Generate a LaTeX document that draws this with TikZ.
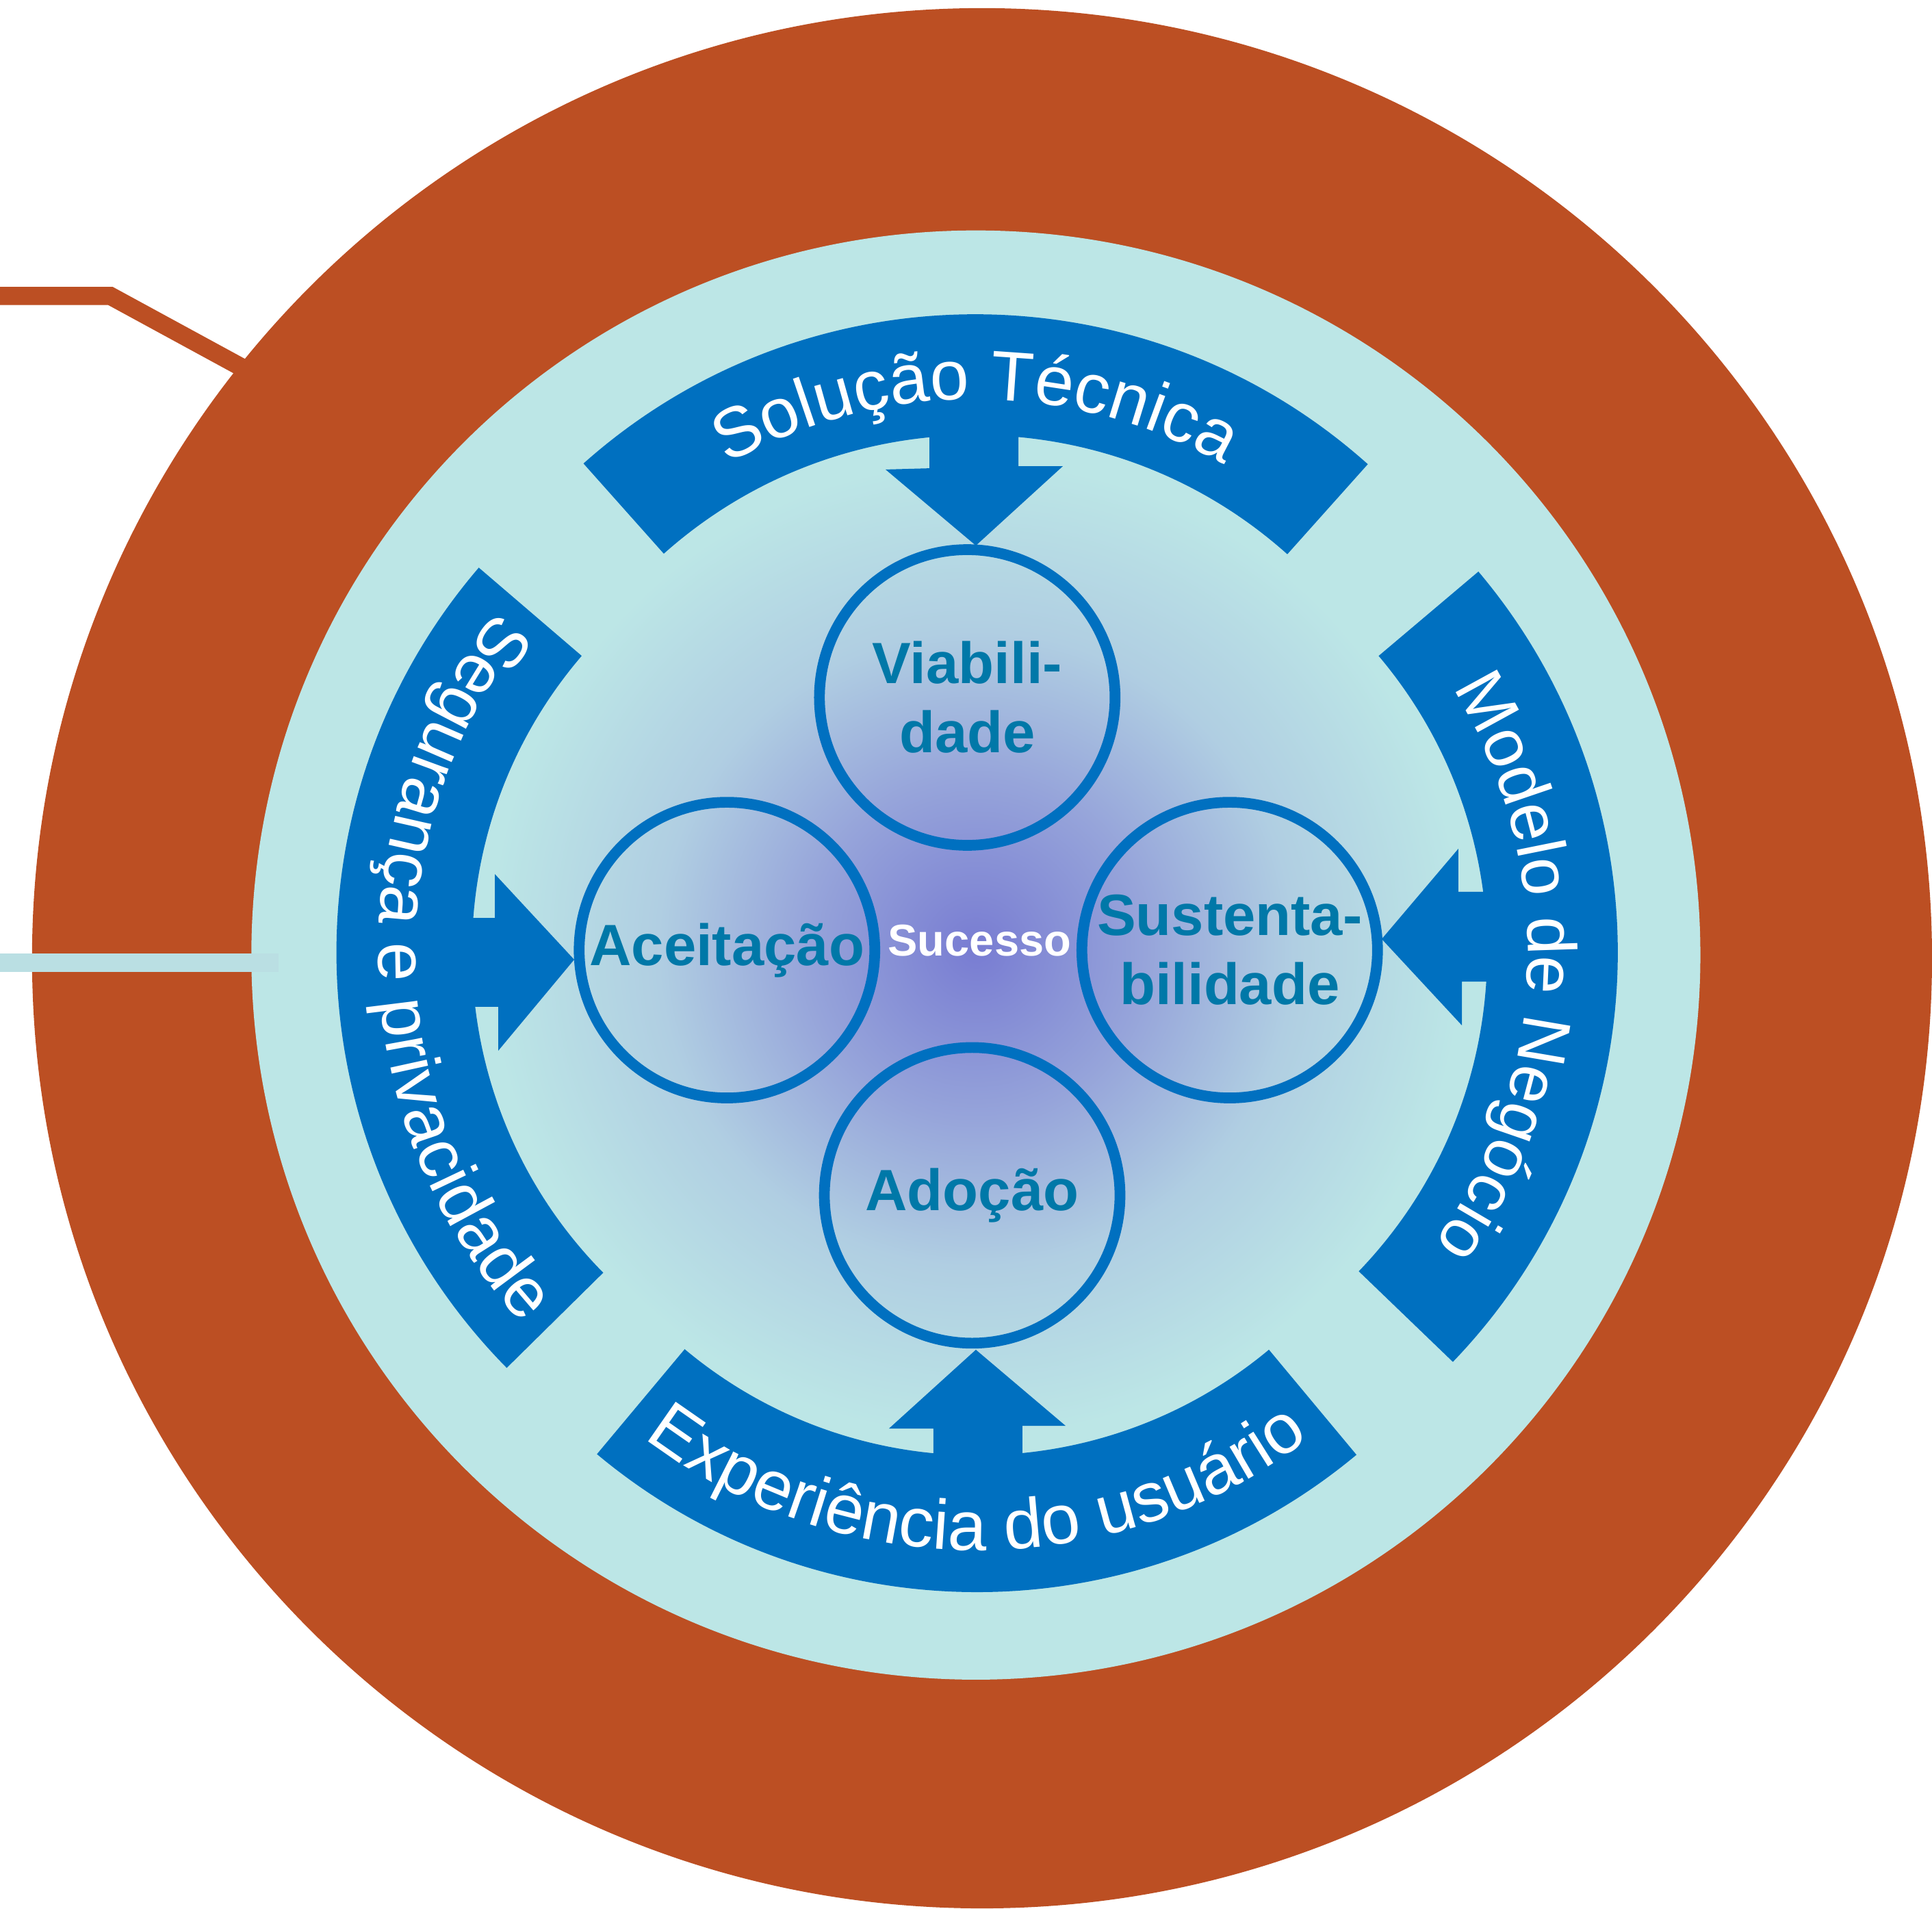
\documentclass[tikz,border=0pt]{standalone}
\usepackage{fontspec}
\setmainfont{Liberation Sans}
\usetikzlibrary{calc,decorations.text}
\definecolor{orangec}{RGB}{188,79,35}
\definecolor{cyanc}{RGB}{188,230,230}
\definecolor{cyanline}{RGB}{186,223,227}
\definecolor{bandblue}{RGB}{0,112,192}
\definecolor{ctext}{RGB}{0,120,168}
\definecolor{glowA}{RGB}{120,124,210}
\definecolor{glowB}{RGB}{150,164,218}
\definecolor{glowC}{RGB}{176,206,226}
\pgfdeclareradialshading{sucglow}{\pgfpoint{0bp}{0bp}}{color(0bp)=(glowA); color(8bp)=(glowB); color(15bp)=(glowC); color(23bp)=(cyanc); color(50bp)=(cyanc)}
\newcommand\bandfont{\fontsize{29.2}{31}\selectfont}
\newcommand\bandfontr{\fontsize{28.45}{30}\selectfont}
\newcommand\blueband[5]{% center a1 a2 ri ro
  \fill[bandblue] ($(#1)+(#2:#5)$) arc[start angle=#2, end angle=#3, radius=#5]
    -- ($(#1)+(#3:#4)$) arc[start angle=#3, end angle=#2, radius=#4] -- cycle;}
\begin{document}
\begin{tikzpicture}[x=0.018004cm, y=0.018004cm,
  ringnode/.style={circle, draw=bandblue, line width=0.157cm, minimum size=4.32cm,
    inner sep=0pt, text=ctext, font=\bfseries\fontsize{24.2}{28.7}\selectfont, align=center},
  bandtext/.style={decorate, decoration={text along path, text align=center, text color=white, text={|\bandfont|#1}}},
  bandtextr/.style={decorate, decoration={text along path, text align=center, text color=white, text={|\bandfontr|#1}}}]
\useasboundingbox (0,0) rectangle (1568,1549);
% outer ring and lines
\fill[orangec] (797,771.4) circle[radius=771];
\draw[orangec, line width=0.265cm] (0,1308.8) -- (89.7,1308.8) -- (240,1227);
\fill[cyanc] (792,774) circle[radius=588];
\draw[cyanline, line width=0.27cm] (0,767.8) -- (226,767.8);
% glow
\shade[shading=sucglow] (792,779) circle[radius=430];
% band centres
\coordinate (tc) at (791.5,816);
\coordinate (bc) at (793,738);
\coordinate (lc) at (753,776);
\coordinate (rc) at (834,776);
\blueband{tc}{48.2}{131.7}{380}{478}
\blueband{bc}{230.1}{309.8}{370}{481}
\blueband{lc}{139.4}{224.6}{370}{480}
\blueband{rc}{-43.9}{40.2}{373}{479}
% arrows
\fill[bandblue] (754.3,1204) -- (754.3,1169) -- (718.7,1168) -- (792,1106.3) -- (862.6,1170.7) -- (826.5,1170.7) -- (826.5,1204) -- cycle;
\fill[bandblue] (757.6,359) -- (757.6,389.8) -- (721.5,389.8) -- (792,453.7) -- (864.8,392) -- (829.8,392) -- (829.8,359) -- cycle;
\fill[bandblue] (375,804.1) -- (401.6,804.1) -- (401.6,839.7) -- (466,770.3) -- (404.4,696.4) -- (404.4,732) -- (375,732) -- cycle;
\fill[bandblue] (1225,825.3) -- (1183.6,825.3) -- (1183.6,860.3) -- (1121.4,787) -- (1186.4,717) -- (1186.4,752.5) -- (1225,752.5) -- cycle;
% circles
\node[ringnode] (viab) at (785,983) {Viabili-\\dade};
\node[ringnode] (aceit) at (590,778) {Aceitação};
\node[ringnode] (sust) at (998,778) {Sustenta-\\bilidade};
\node[ringnode] (adoc) at (789,579) {Adoção};
\node[text=white, font=\bfseries\fontsize{18.5}{20}\selectfont] (suc) at (795,786) {Sucesso};
% band texts
\path[bandtext={Solução Técnica}] ($(tc)+(131.7:409)$) arc[start angle=131.7, end angle=48.2, radius=409];
\path[bandtextr={Modelo de Negócio}] ($(rc)+(40.2:406)$) arc[start angle=40.2, end angle=-43.9, radius=406];
\path[bandtext={Experiência do usuário}] ($(bc)+(230.1:447)$) arc[start angle=230.1, end angle=309.8, radius=447];
\path[bandtext={Segurança e privacidade}] ($(lc)+(139.4:446)$) arc[start angle=139.4, end angle=224.6, radius=446];
\end{tikzpicture}
\end{document}
